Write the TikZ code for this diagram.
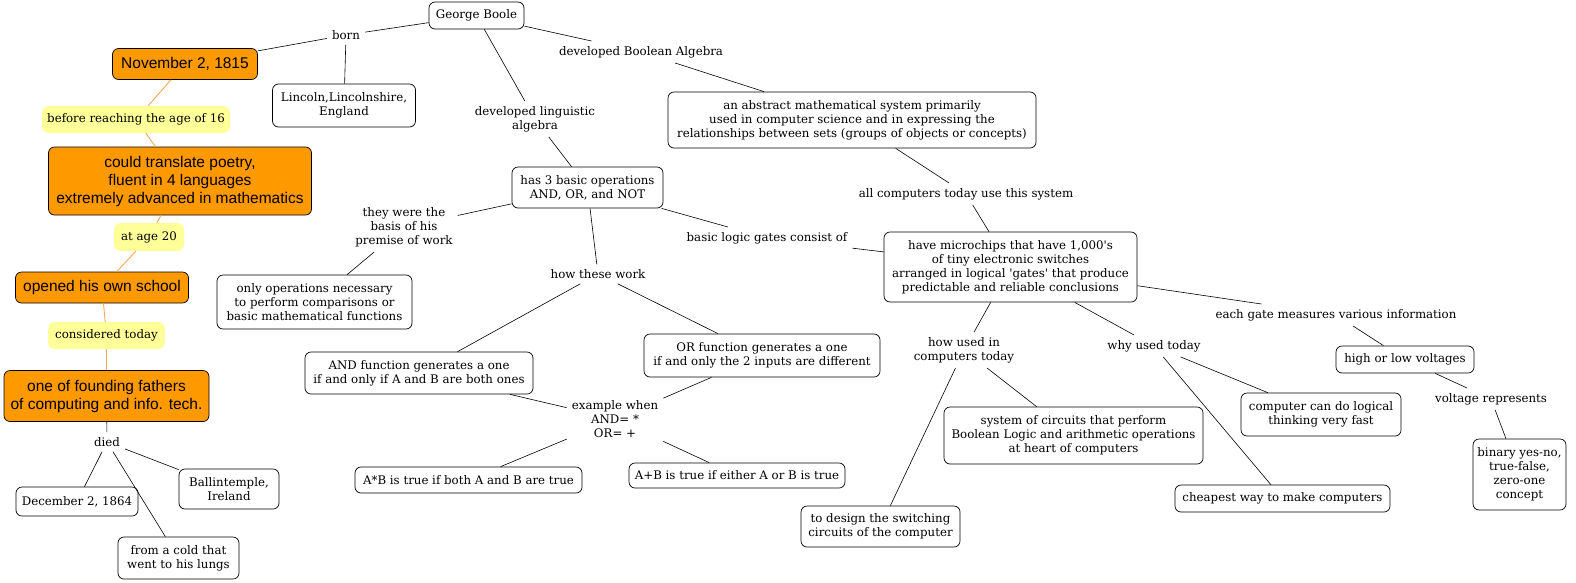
\documentclass[tikz,border=0pt]{standalone}
\usepackage{fontspec}
\setmainfont{DejaVu Serif}
\newfontfamily\orfont{Liberation Sans}
\definecolor{orfill}{RGB}{255,153,0}
\definecolor{ylw}{RGB}{255,255,153}
\definecolor{oline}{RGB}{240,170,90}
\tikzset{
  txt/.style={font=\fontsize{11.8}{14}\selectfont, align=center},
  box/.style={txt, draw, rounded corners=6pt, line width=0.7pt, inner sep=1pt},
  orbox/.style={box, fill=orfill, font=\orfont\fontsize{15.5}{18}\selectfont},
  ylab/.style={txt, fill=ylw, rounded corners=7pt, inner sep=1pt},
  lab/.style={txt, inner sep=5pt},
  conn/.style={line width=0.6pt},
  oconn/.style={draw=oline, line width=0.9pt}
}
\begin{document}
\begin{tikzpicture}[x=1pt,y=-1pt]
\fill[white] (0,0) rectangle (1576,582);
\useasboundingbox (0,0) rectangle (1576,582);
% left column
\node[box, minimum width=95, minimum height=27] (gb) at (476.5,15.5) {George Boole};
\node[lab] (born) at (346,35) {born};
\node[orbox, minimum width=145, minimum height=31] (nov) at (185,64) {November 2, 1815};
\node[box, minimum width=143, minimum height=43] (lincoln) at (344,105.5) {Lincoln,Lincolnshire,\\England};
\node[ylab, minimum width=188, minimum height=27] (before) at (136,119.5) {before reaching the age of 16};
\node[orbox, minimum width=263, minimum height=68] (could) at (180,181) {could translate poetry,\\fluent in 4 languages\\extremely advanced in mathematics};
\node[ylab, minimum width=70, minimum height=28] (age20) at (149,237) {at age 20};
\node[orbox, minimum width=173, minimum height=31] (opened) at (102,287.5) {opened his own school};
\node[ylab, minimum width=117, minimum height=27] (considered) at (106.5,335.5) {considered today};
\node[orbox, minimum width=205, minimum height=51] (fathers) at (106.5,396) {one of founding fathers\\of computing and info. tech.};
\node[lab] (died) at (107,442) {died};
\node[box, minimum width=122, minimum height=29] (dec) at (77,501.5) {December 2, 1864};
\node[box, minimum width=100, minimum height=40] (ballin) at (229,489) {Ballintemple,\\Ireland};
\node[box, minimum width=121, minimum height=42] (cold) at (178.5,558) {from a cold that\\went to his lungs};
% middle
\node[lab] (devling) at (535,119) {developed linguistic\\algebra};
\node[box, minimum width=151, minimum height=41] (has3) at (587.5,187.5) {has 3 basic operations\\AND, OR, and NOT};
\node[lab] (they) at (404,227) {they were the\\basis of his\\premise of work};
\node[box, minimum width=195, minimum height=54] (only) at (314.5,302) {only operations necessary\\to perform comparisons or\\basic mathematical functions};
\node[lab] (how) at (598,274) {how these work};
\node[box, minimum width=228, minimum height=42] (and) at (419,373) {AND function generates a one\\if and only if A and B are both ones};
\node[box, minimum width=236, minimum height=43] (or) at (762,355.5) {OR function generates a one\\if and only the 2 inputs are different};
\node[lab] (ex) at (615,419) {example when\\AND= *\\OR= +};
\node[box, minimum width=227, minimum height=26] (ab) at (468.5,480) {A*B is true if both A and B are true};
\node[box, minimum width=216, minimum height=25] (apb) at (737,475.5) {A+B is true if either A or B is true};
\node[lab] (devba) at (641,52) {developed Boolean Algebra};
\node[box, minimum width=368, minimum height=56] (abstract) at (852,120) {an abstract mathematical system primarily\\used in computer science and in expressing the\\relationships between sets (groups of objects or concepts)};
\node[lab] (basic) at (767,238) {basic logic gates consist of};
% right
\node[lab] (all) at (966,194) {all computers today use this system};
\node[box, minimum width=253, minimum height=70] (micro) at (1010.5,267) {have microchips that have 1,000\textquotesingle s\\of tiny electronic switches\\arranged in logical \textquotesingle gates\textquotesingle{} that produce\\predictable and reliable conclusions};
\node[lab] (howused) at (964,350) {how used in\\computers today};
\node[lab] (why) at (1154,346) {why used today};
\node[lab] (each) at (1336,315) {each gate measures various information};
\node[box, minimum width=138, minimum height=27] (high) at (1405,359.5) {high or low voltages};
\node[lab] (volt) at (1491,399) {voltage represents};
\node[box, minimum width=93, minimum height=71] (binary) at (1519.5,474.5) {binary yes-no,\\true-false,\\zero-one\\concept};
\node[box, minimum width=160, minimum height=43] (computer) at (1321,414.5) {computer can do logical\\thinking very fast};
\node[box, minimum width=215, minimum height=27] (cheapest) at (1282.5,498.5) {cheapest way to make computers};
\node[box, minimum width=259, minimum height=57] (system) at (1073.5,435.5) {system of circuits that perform\\Boolean Logic and arithmetic operations\\at heart of computers};
\node[box, minimum width=159, minimum height=41] (design) at (880.5,526.5) {to design the switching\\circuits of the computer};
% connectors
\draw[conn] (gb) -- (born);
\draw[conn] (born) -- (nov);
\draw[conn] (born) -- (lincoln);
\draw[conn] (gb) -- (devling);
\draw[conn] (devling) -- (has3);
\draw[conn] (gb) -- (devba);
\draw[conn] (devba) -- (abstract);
\draw[conn] (has3) -- (they);
\draw[conn] (they) -- (only);
\draw[conn] (has3) -- (how);
\draw[conn] (how) -- (and);
\draw[conn] (how) -- (or);
\draw[conn] (and) -- (ex);
\draw[conn] (or) -- (ex);
\draw[conn] (ex) -- (ab);
\draw[conn] (ex) -- (apb);
\draw[conn] (has3) -- (basic);
\draw[conn] (basic) -- (micro);
\draw[conn] (abstract) -- (all);
\draw[conn] (all) -- (micro);
\draw[conn] (micro) -- (howused);
\draw[conn] (micro) -- (why);
\draw[conn] (micro) -- (each);
\draw[conn] (each) -- (high);
\draw[conn] (high) -- (volt);
\draw[conn] (volt) -- (binary);
\draw[conn] (howused) -- (system);
\draw[conn] (howused) -- (design);
\draw[conn] (why) -- (computer);
\draw[conn] (why) -- (cheapest);
\draw[oconn] (nov) -- (before);
\draw[oconn] (before) -- (could);
\draw[oconn] (could) -- (age20);
\draw[oconn] (age20) -- (opened);
\draw[oconn] (opened) -- (considered);
\draw[oconn] (considered) -- (fathers);
\draw[conn] (fathers) -- (died);
\draw[conn] (died) -- (dec);
\draw[conn] (died) -- (cold);
\draw[conn] (died) -- (ballin);
\end{tikzpicture}
\end{document}
